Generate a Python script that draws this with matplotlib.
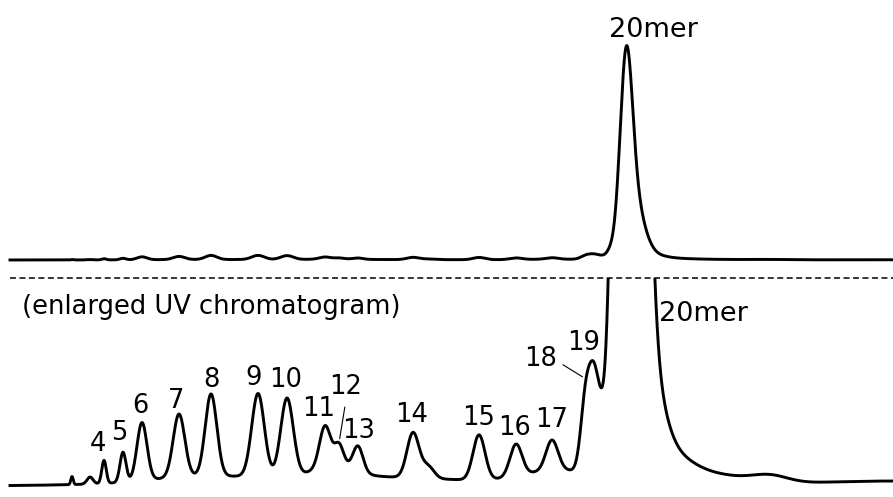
import numpy as np
import matplotlib
matplotlib.use("Agg")
import matplotlib.pyplot as plt

plt.rcParams["font.family"] = ["DejaVu Sans"]

# Labelled oligomer peaks: retention time (min), height (mAU), width sigma (min)
peak_label = ["4", "5", "6", "7", "8", "9", "10", "11", "12",
              "13", "14", "15", "16", "17", "18", "19"]
peak_time = [3.494, 4.132, 4.770, 6.013, 7.089, 8.668, 9.642, 10.918, 11.389,
             12.027, 13.875, 16.092, 17.335, 18.544, 19.686, 19.955]
peak_height = [0.540, 0.704, 1.362, 1.479, 1.925, 1.948, 1.831, 0.939, 0.469,
               0.587, 1.056, 1.056, 0.751, 0.704, 1.761, 1.338]
peak_width = [0.074, 0.101, 0.168, 0.195, 0.195, 0.212, 0.212, 0.185, 0.151,
              0.168, 0.202, 0.202, 0.202, 0.202, 0.168, 0.151]

# Full-length product (20mer): main band, front and tailing components
main_time = [21.030, 20.509, 21.265, 21.501, 21.837, 22.341]
main_height = [85.68, 1.878, 16.43, 9.39, 1.878, 0.587]
main_width = [0.208, 0.118, 0.269, 0.286, 0.437, 0.739]

# Unassigned signal: early spikes, baseline humps, shoulders, late drift
other_time = [2.419, 3.024, 6.383, 11.086, 11.254, 14.378, 18.813, 20.325,
              23.516, 25.868, 30.0]
other_height = [0.188, 0.164, 0.094, 0.235, 0.282, 0.282, 0.329, 1.761,
                0.282, 0.164, 0.117]
other_width = [0.040, 0.101, 1.344, 4.367, 0.605, 0.202, 1.176, 0.302,
               1.344, 0.605, 3.024]

# Label offsets from each apex, points (dx, dy)
label_offset = [(-4.3, 6.5), (-2.9, 8.6), (-1.4, 7.2), (-2.2, 4.3), (0, 5),
                (-2.9, 5.8), (-0.7, 7.9), (-4.3, 7.2), (5, 35), (0.7, 5.8),
                (-1.4, 7.2), (0, 7.2), (-1.4, 6.5), (0, 9.4), (-33, 9),
                (-7.2, 8.5)]
leader = {"12": (0.5, 0.0), "18": (1.0, 0.45)}

TOP_YLIM = (-8.45, 122.07)
BOT_YLIM = (-0.258, 4.883)   # 20x enlargement of the same trace
T_START, T_END = 0.336, 30.0


def gauss_sum(t, centers, heights, widths):
    out = np.zeros_like(t)
    for c, h, w in zip(centers, heights, widths):
        out += h * np.exp(-0.5 * ((t - c) / w) ** 2)
    return out


t = np.linspace(T_START, T_END, 6000)
signal = (gauss_sum(t, peak_time, peak_height, peak_width)
          + gauss_sum(t, main_time, main_height, main_width)
          + gauss_sum(t, other_time, other_height, other_width))

W, H = 893, 497
fig = plt.figure(figsize=(W / 100, H / 100), dpi=100)
split = 219 / H
ax_top = fig.add_axes([0, split, 1, 1 - split])
ax_bot = fig.add_axes([0, 0, 1, split])

for ax, ylim in ((ax_top, TOP_YLIM), (ax_bot, BOT_YLIM)):
    ax.plot(t, signal, color="black", lw=2.1, solid_joinstyle="round")
    ax.set_xlim(0, 30)
    ax.set_ylim(*ylim)
    ax.axis("off")

# divider between full-scale and enlarged traces
ax_bot.plot([T_START, T_END], [BOT_YLIM[1], BOT_YLIM[1]], color="black",
            lw=1.1, ls=(0, (3.9, 2.3)), clip_on=False)

# 20mer label on the full-scale trace
apex = signal.max()
ax_top.annotate("20mer", xy=(t[signal.argmax()], apex), xytext=(19.4, 6.5),
                textcoords="offset points", ha="center", va="baseline",
                fontsize=19.5)

# 20mer label beside the clipped peak in the enlarged trace
ax_bot.annotate("20mer", xy=(main_time[0], BOT_YLIM[1]), xytext=(23.8, -31),
                textcoords="offset points", ha="left", va="baseline",
                fontsize=19.5)

ax_bot.text(22 / W, 0.8356, "(enlarged UV chromatogram)", transform=ax_bot.transAxes,
            ha="left", va="baseline", fontsize=18.5)

for lab, pt, (dx, dy) in zip(peak_label, peak_time, label_offset):
    yv = np.interp(pt, t, signal)
    kw = {}
    if lab in leader:
        kw["arrowprops"] = dict(arrowstyle="-", lw=0.8, color="black",
                                shrinkA=3, shrinkB=3, relpos=leader[lab])
    ax_bot.annotate(lab, xy=(pt, yv), xytext=(dx, dy), textcoords="offset points",
                    ha="center", va="baseline", fontsize=18.5, **kw)

fig.savefig("out.png", dpi=100)
